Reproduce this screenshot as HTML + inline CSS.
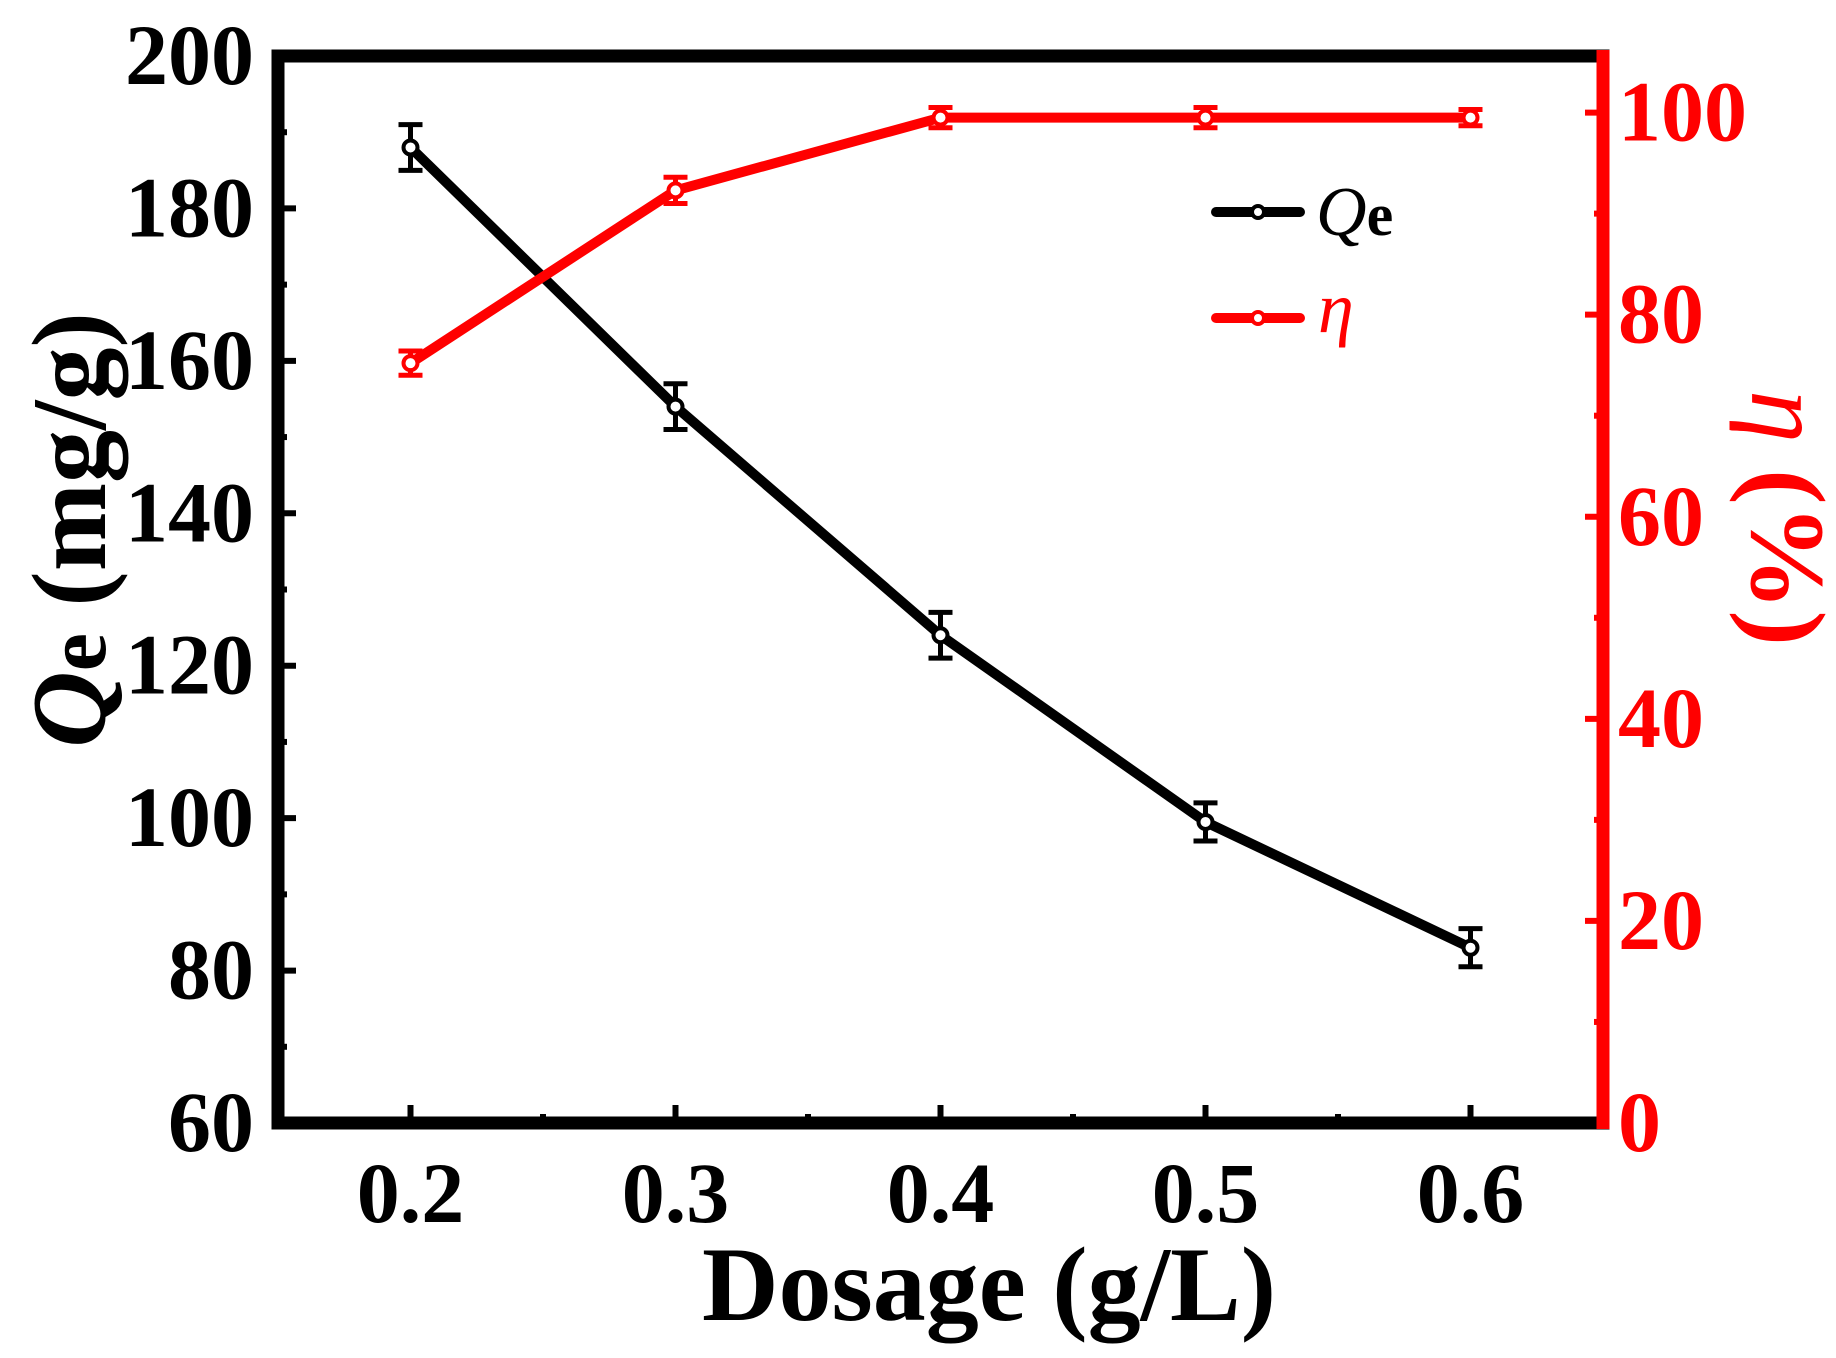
<!DOCTYPE html>
<html><head><meta charset="utf-8"><style>
html,body{margin:0;padding:0;background:#fff}
svg{display:block;font-family:"Liberation Serif",serif;font-weight:bold}
</style></head><body>
<svg id="chart" width="1836" height="1358" viewBox="0 0 1836 1358"></svg>
<script>
const categories=[0.2,0.3,0.4,0.5,0.6];
const qeValues=[188,154,124,99.5,83];
const qeErrors=[3,3,3,2.5,2.5];
const etaValues=[75.2,92.3,99.5,99.5,99.5];
const etaErrors=[1.2,1.3,1,1,0.8];
const xTicks=["0.2","0.3","0.4","0.5","0.6"];
const yLeftTicks=["60","80","100","120","140","160","180","200"];
const yRightTicks=["0","20","40","60","80","100"];

const L=278,R=1603,T=56,B=1123;
const X=v=>L+(v-0.15)/(0.5)*(R-L);
const YL=v=>B-(v-60)/140*(B-T);
const YR=v=>B-v/105.6*(B-T);
const svg=document.getElementById('chart');
const NS='http://www.w3.org/2000/svg';
function mk(tag,attrs,parent){const e=document.createElementNS(NS,tag);for(const k in attrs)e.setAttribute(k,attrs[k]);(parent||svg).appendChild(e);return e;}

const tg=mk('g',{});


xTicks.forEach((t,i)=>{const v=+t;const x=X(v);
 mk('line',{x1:x,x2:x,y1:B,y2:B-18,stroke:'#000','stroke-width':6},tg);
 const xm=X(v+0.05);if(v+0.05<0.65)mk('line',{x1:xm,x2:xm,y1:B,y2:B-9,stroke:'#000','stroke-width':6},tg);
 const tx=mk('text',{x:x,y:1222,'text-anchor':'middle','font-size':86,fill:'#000'});tx.textContent=t;
 
 
});
yLeftTicks.forEach(t=>{const v=+t;const y=YL(v);
 mk('line',{x1:L,x2:L+18,y1:y,y2:y,stroke:'#000','stroke-width':6},tg);
 if(v<200){const ym=YL(v+10);mk('line',{x1:L,x2:L+9,y1:ym,y2:ym,stroke:'#000','stroke-width':6},tg);}
 const tx=mk('text',{x:254,y:y+28,'text-anchor':'end','font-size':86,fill:'#000'});tx.textContent=t;
 
 
});
yRightTicks.forEach(t=>{const v=+t;const y=YR(v);
 mk('line',{x1:R,x2:R-18,y1:y,y2:y,stroke:'#f00','stroke-width':6},tg);
 if(v<100){const ym=YR(v+10);mk('line',{x1:R,x2:R-9,y1:ym,y2:ym,stroke:'#f00','stroke-width':6},tg);}
 const tx=mk('text',{x:1618,y:y+28,'text-anchor':'start','font-size':86,fill:'#f00'});tx.textContent=t;
 
 
});

const fr=mk('g',{});


mk('path',{d:`M${R} ${T} H${L} V${B} H${R}`,fill:'none',stroke:'#000','stroke-width':13,'stroke-linecap':'square'},fr);
mk('line',{x1:R,x2:R,y1:T-6,y2:B+6,stroke:'#f00','stroke-width':13},fr);

function series(vals,errs,Y,color,name){
 const g=mk('g',{});
 
 
 mk('polyline',{points:categories.map((c,i)=>X(c)+','+Y(vals[i])).join(' '),fill:'none',stroke:color,'stroke-width':10,'stroke-linejoin':'round'},g);
 categories.forEach((c,i)=>{const x=X(c),y1=Y(vals[i]+errs[i]),y2=Y(vals[i]-errs[i]);
  mk('path',{d:`M${x} ${y1} V${y2} M${x-12} ${y1} H${x+12} M${x-12} ${y2} H${x+12}`,stroke:color,'stroke-width':5,fill:'none'},g);
  const p=mk('circle',{cx:x,cy:Y(vals[i]),r:7,fill:'#fff',stroke:color,'stroke-width':4},g);
  
  
 });
}
series(qeValues,qeErrors,YL,'#000','qe-series');
series(etaValues,etaErrors,YR,'#f00','eta-series');

const lg=mk('g',{});


mk('line',{x1:1216,x2:1300,y1:212,y2:212,stroke:'#000','stroke-width':10,'stroke-linecap':'round'},lg);
mk('circle',{cx:1258,cy:212,r:6,fill:'#fff',stroke:'#000','stroke-width':4},lg);
const l1=mk('text',{x:1316,y:235,'font-size':70,fill:'#000'},lg);
l1.innerHTML='<tspan font-style="italic" font-weight="normal">Q</tspan><tspan font-size="60">e</tspan>';
mk('line',{x1:1216,x2:1300,y1:318,y2:318,stroke:'#f00','stroke-width':10,'stroke-linecap':'round'},lg);
mk('circle',{cx:1258,cy:318,r:6,fill:'#fff',stroke:'#f00','stroke-width':4},lg);
const l2=mk('text',{x:1318,y:332,'font-size':72,fill:'#f00','font-style':'italic','font-weight':'normal'},lg);
l2.textContent='η';

const xt=mk('text',{x:989,y:1320,'text-anchor':'middle','font-size':106,fill:'#000'});
xt.textContent='Dosage (g/L)';


const yt=mk('text',{x:0,y:0,'text-anchor':'middle','font-size':106,fill:'#000',transform:'translate(105,530) rotate(-90)'});
yt.innerHTML='<tspan font-style="italic">Q</tspan><tspan font-size="86">e</tspan> (mg/g)';


const yr=mk('text',{x:0,y:0,'text-anchor':'middle','font-size':106,fill:'#f00',transform:'translate(1752,518) rotate(90)'});
yr.innerHTML='<tspan font-style="italic" font-weight="normal">η</tspan> (%)';


</script>
</body></html>
